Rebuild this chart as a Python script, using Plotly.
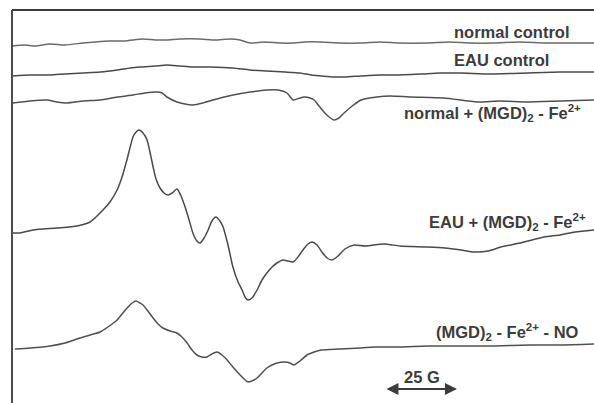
import plotly.graph_objects as go

# Magnetic field (G, relative to left edge of frame) and signal (arbitrary units, relative to each trace baseline)
field_normal_ctrl = [0, 4.5, 8.0, 13.2, 18.4, 24.7, 28.8, 34.0, 39.2, 45.5, 49.7, 53.8, 58.3, 65.3, 70.5, 75.7, 79.2,
                     82.6, 87.8, 93.1, 97.9, 101.7, 107.3, 113.9, 121.2, 127.8, 134.7, 144.1, 152.1, 159.0, 167.4,
                     176.4, 185.1, 193.8, 202.1]
sig_normal_ctrl = [0, 1, 0, 2, 1, 3, 4, 5, 5, 7, 6, 6, 7, 7, 6, 7, 6, 3, 4, 3, 3, 4, 4, 3, 3, 4, 3, 3, 4, 3, 3, 4, 3, 3, 3]

field_eau_ctrl = [0.3, 6.3, 13.2, 18.4, 24.7, 30.6, 36.5, 41.0, 44.4, 49.7, 53.8, 58.3, 62.8, 68.8, 76.7, 82.6, 88.5,
                  94.8, 100.0, 103.8, 107.6, 111.8, 115.6, 121.2, 127.8, 132.6, 141.7, 148.6, 155.9, 166.0, 178.8,
                  190.3, 202.1]
sig_eau_ctrl = [0, 1, 1, 2, 3, 4, 6, 8, 9, 10, 11, 10, 9, 9, 8, 6, 5, 4, 3, 1, 0, -1, -1, 0, 1, 1, 2, 3, 3, 2, 3, 4, 4]

field_normal_mgd = [0.3, 6.3, 12.2, 15.6, 19.1, 24.7, 30.6, 36.5, 42.0, 46.2, 50.3, 52.1, 53.8, 57.3, 60.1, 62.8, 66.3,
                    69.8, 76.7, 82.6, 88.5, 92.4, 95.5, 97.6, 100.0, 101.4, 103.5, 104.9, 106.6, 108.3, 110.1, 111.8,
                    113.5, 115.3, 118.1, 121.2, 126.7, 131.3, 138.5, 150.0, 161.5, 169.4, 178.8, 190.3, 202.1]
sig_normal_mgd = [0, 2, 3, 1, 0, 2, 3, 6, 8, 10, 11, 10, 6, 1, -1, -2, 0, 3, 8, 11, 13, 13, 10, 3, 5, 6, 5, 3, -3, -9,
                  -14, -17, -15, -10, -3, 3, 6, 7, 6, 5, 1, 2, 1, 2, 3]

field_eau_mgd = [0.3, 2.8, 7.3, 15.6, 22.6, 27.1, 31.6, 34.0, 36.5, 38.2, 39.9, 42.0, 43.1, 44.1, 45.5, 46.9, 47.9,
                 49.0, 50.0, 51.4, 52.8, 54.2, 55.6, 57.3, 58.7, 60.1, 61.5, 62.8, 64.2, 65.3, 66.7, 68.1, 69.4, 70.8,
                 72.2, 73.3, 75.0, 76.7, 78.5, 79.9, 80.9, 81.9, 83.3, 85.1, 86.8, 88.5, 90.3, 92.0, 94.1, 95.8, 97.6,
                 99.3, 101.0, 102.8, 104.2, 105.9, 107.6, 109.4, 111.1, 113.2, 115.6, 118.8, 122.6, 129.2, 134.7,
                 144.1, 150.3, 155.9, 160.4, 165.3, 169.8, 176.4, 184.7, 190.3, 195.5, 202.1]
sig_eau_mgd = [0, 0, 3, 5, 7, 11, 23, 31, 43, 56, 73, 96, 101, 103, 100, 93, 81, 66, 54, 45, 40, 38, 40, 44, 37, 26,
               13, 0, -8, -10, -5, 3, 12, 16, 12, 6, -12, -34, -49, -57, -64, -67, -65, -57, -47, -40, -34, -30, -27,
               -28, -29, -24, -17, -11, -9, -12, -19, -25, -27, -23, -16, -12, -13, -11, -13, -14, -15, -17, -19, -18,
               -14, -10, -4, -2, 1, 3]

field_no = [1.0, 6.3, 13.2, 18.4, 23.6, 27.1, 30.6, 33.3, 36.5, 38.5, 40.3, 41.7, 43.1, 44.4, 45.5, 47.2, 49.0, 50.7,
            52.4, 54.9, 57.3, 59.0, 60.8, 62.5, 64.2, 66.0, 67.7, 69.4, 71.2, 72.9, 74.7, 76.7, 79.2, 80.6, 81.9, 83.3,
            85.1, 86.8, 88.5, 90.3, 92.0, 94.8, 96.5, 97.9, 100.0, 102.4, 104.9, 107.3, 113.9, 121.2, 125.7, 134.7,
            144.1, 155.6, 167.4, 179.9, 190.3, 202.1]
sig_no = [0, 1, 3, 6, 11, 14, 17, 22, 29, 36, 42, 46, 48, 46, 44, 38, 31, 25, 21, 18, 16, 12, 6, -1, -6, -8, -8, -5,
          -3, -6, -11, -18, -26, -30, -33, -32, -29, -24, -19, -16, -14, -13, -14, -16, -12, -6, -3, -1, 0, 1, 2, 2,
          3, 3, 3, 4, 4, 5]

labels = ["normal control", "EAU control", "normal + (MGD)<sub>2</sub> - Fe<sup>2+</sup>",
          "EAU + (MGD)<sub>2</sub> - Fe<sup>2+</sup>", "(MGD)<sub>2</sub> - Fe<sup>2+</sup> - NO"]
scale_bar_G = 25

# layout / style
offsets = [357, 327, 300, 170, 54]
label_pos = [(173.6, 371), (169.8, 343), (167.0, 290), (172.2, 181), (171.9, 71)]
line_colors = ["#6a6a6a", "#4a4a4a", "#505050", "#4a4a4a", "#505050"]
FONT = dict(family="Liberation Sans, Arial, sans-serif", size=16.5, color="#3c3c3c", weight="bold")

series = [(field_normal_ctrl, sig_normal_ctrl), (field_eau_ctrl, sig_eau_ctrl), (field_normal_mgd, sig_normal_mgd),
          (field_eau_mgd, sig_eau_mgd), (field_no, sig_no)]

fig = go.Figure()
for (fx, sy), off, col in zip(series, offsets, line_colors):
    fig.add_trace(go.Scatter(x=fx, y=[off + v for v in sy], mode="lines",
                             line=dict(color=col, width=1.5, shape="spline", smoothing=0.6),
                             hoverinfo="skip", showlegend=False))

for txt, (lx, ly) in zip(labels, label_pos):
    fig.add_annotation(x=lx, y=ly, text=txt, showarrow=False, font=FONT)

# scale bar
bar_start = 129.5
fig.add_annotation(x=bar_start + scale_bar_G, y=14, ax=bar_start, ay=14, axref="x", ayref="y",
                   xref="x", yref="y", text="", showarrow=True, arrowside="end+start",
                   arrowhead=2, arrowsize=1.2, arrowwidth=2, arrowcolor="#3c3c3c")
fig.add_annotation(x=bar_start + scale_bar_G / 2 + 0.5, y=26, text=f"{scale_bar_G} G", showarrow=False, font=FONT)

# frame: top and left lines
fig.add_shape(type="line", xref="paper", yref="paper", x0=12 / 594, x1=1, y0=1 - 10 / 403, y1=1 - 10 / 403,
              line=dict(color="#3a3a3a", width=1.8))
fig.add_shape(type="line", xref="paper", yref="paper", x0=12 / 594, x1=12 / 594, y0=0, y1=1 - 10 / 403,
              line=dict(color="#3a3a3a", width=1.8))

fig.update_xaxes(range=[-12 / 2.88, 582 / 2.88], visible=False)
fig.update_yaxes(range=[0, 403], visible=False)
fig.update_layout(width=594, height=403, margin=dict(l=0, r=0, t=0, b=0),
                  paper_bgcolor="white", plot_bgcolor="white")
fig.write_html("out.html")
